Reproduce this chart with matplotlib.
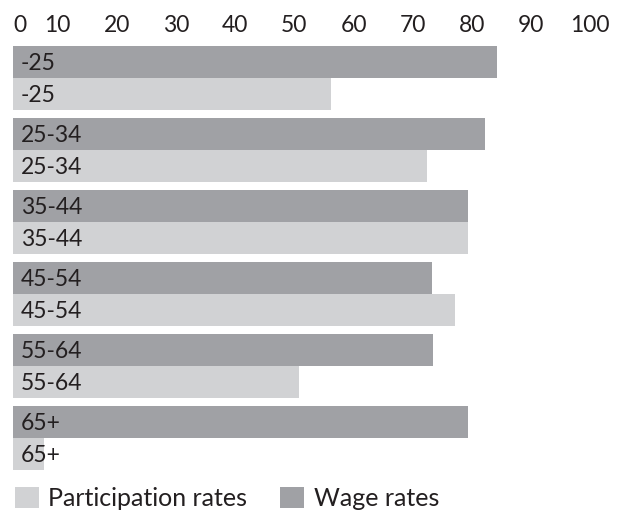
import numpy as np
import matplotlib
matplotlib.use("Agg")
import matplotlib.pyplot as plt
from matplotlib.patches import Patch
from matplotlib.transforms import ScaledTranslation

plt.rcParams['font.family'] = ['Lato', 'DejaVu Sans']

# Data
groups = ['-25', '25-34', '35-44', '45-54', '55-64', '65+']
wage_rates = [81.8, 79.8, 76.9, 70.8, 71.0, 76.9]
participation_rates = [53.8, 70.0, 76.9, 74.7, 48.4, 5.3]
xticks = [0, 10, 20, 30, 40, 50, 60, 70, 80, 90, 100]

dark = '#a0a1a5'
light = '#d1d2d4'
txt = '#231f20'

fig = plt.figure(figsize=(6.19, 5.14), dpi=100)
ax = fig.add_axes([12.7 / 619, 44.3 / 514, 592 / 619, 424 / 514])

h = 32 / 72.06
pos = np.arange(len(groups))
ax.barh(pos + h / 2, wage_rates, height=h, color=dark, linewidth=0)
ax.barh(pos + 1.5 * h, participation_rates, height=h, color=light, linewidth=0)

for i, g in enumerate(groups):
    ax.text(1.4, pos[i] + h / 2 + 0.02, g, va='center', ha='left', fontsize=16.5, color=txt)
    ax.text(1.4, pos[i] + 1.5 * h + 0.02, g, va='center', ha='left', fontsize=16.5, color=txt)

ax.set_xlim(0, 100)
ax.set_ylim(len(groups) - 1 + 2 * h, 0)
ax.set_yticks([])
ax.xaxis.tick_top()
ax.set_xticks(xticks)
ax.set_xticklabels([str(t) for t in xticks], fontsize=16.5, color=txt)
ax.tick_params(axis='x', length=0, pad=9)
for spine in ax.spines.values():
    spine.set_visible(False)

# labels sit a little left of their ticks, the "0" is kept inside the figure
for lab, t in zip(ax.get_xticklabels(), xticks):
    dx = 7.3 if t == 0 else -14.4
    lab.set_transform(lab.get_transform() + ScaledTranslation(dx / 100, -3 / 100, fig.dpi_scale_trans))

handles = [Patch(facecolor=light, edgecolor='none'), Patch(facecolor=dark, edgecolor='none')]
fig.legend(handles, ['Participation rates', 'Wage rates'], loc='lower left',
           bbox_to_anchor=(0.0, -0.022), ncol=2, frameon=False, fontsize=18,
           handlelength=0.96, handleheight=0.92, handletextpad=0.38,
           columnspacing=1.3, borderaxespad=0.2, labelcolor=txt)

fig.savefig('out.png', dpi=100)
